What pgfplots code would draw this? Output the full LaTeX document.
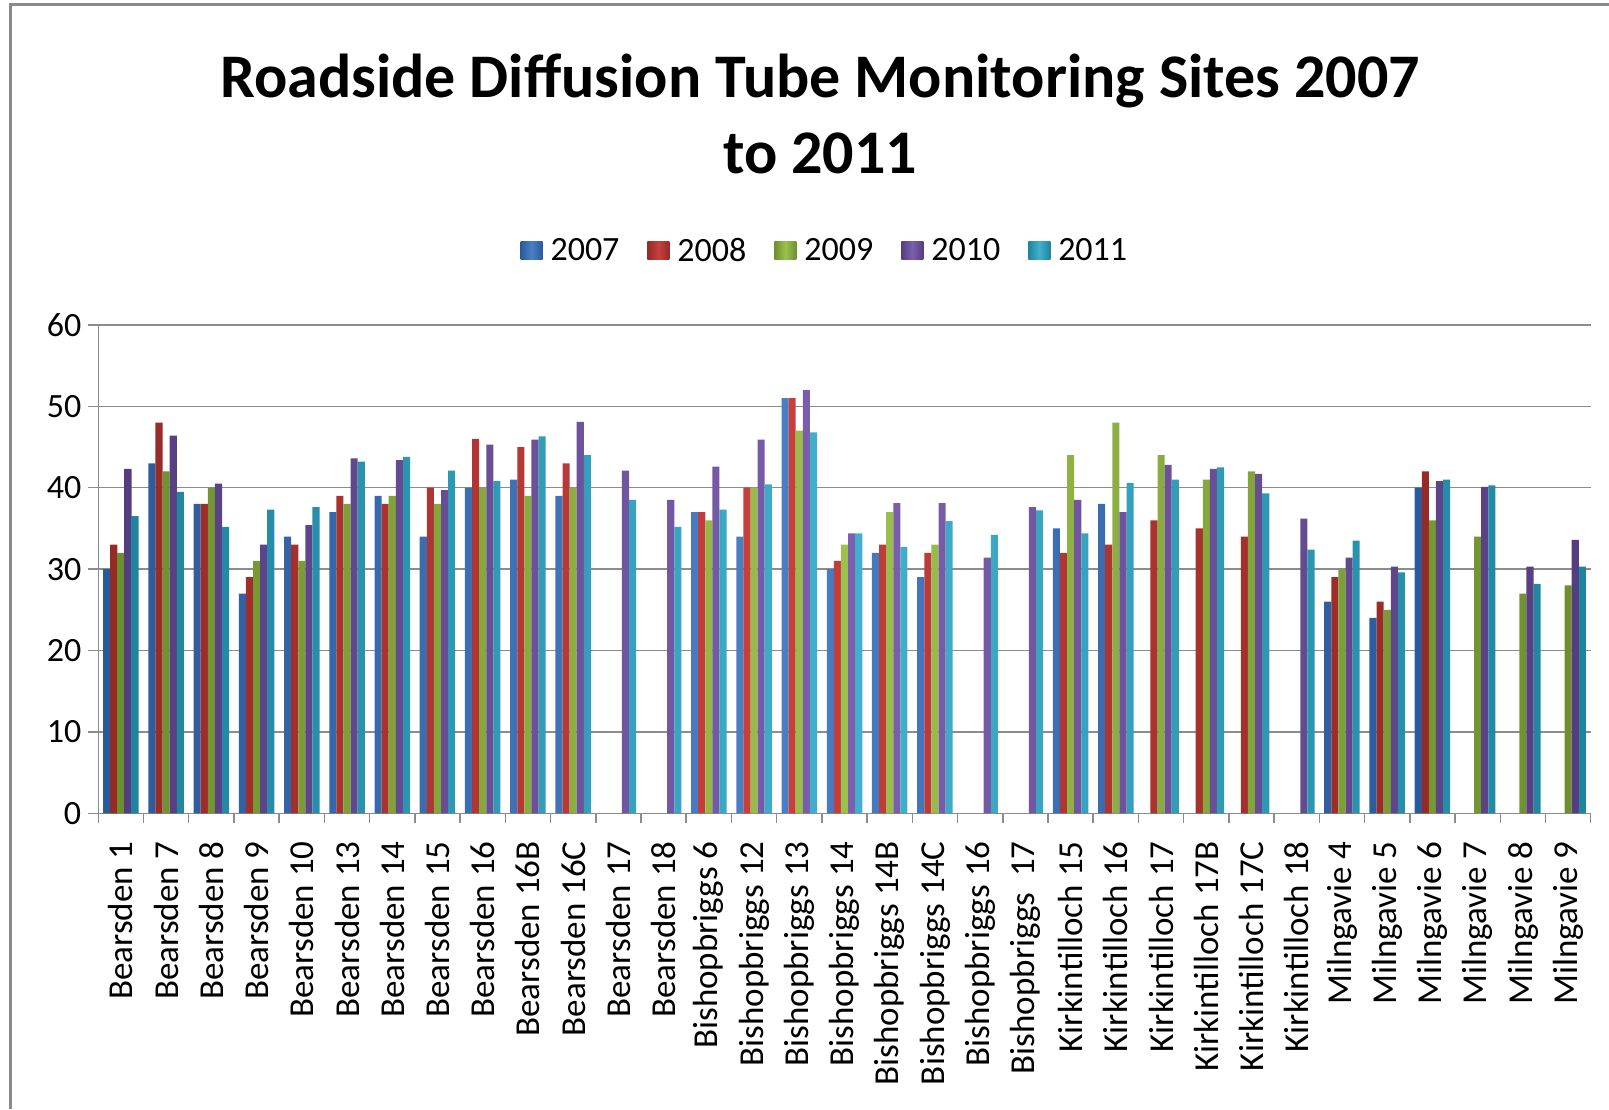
\documentclass[border=0pt]{standalone}
\usepackage{fontspec}
\setmainfont{Carlito}
\usepackage{pgfplots}
\pgfplotsset{compat=1.18}
\usepackage{pgfplotstable}

\definecolor{dA}{HTML}{2B5A9A}\definecolor{lA}{HTML}{4A7FC6}
\definecolor{dB}{HTML}{952A27}\definecolor{lB}{HTML}{C8403C}
\definecolor{dC}{HTML}{6E8F2E}\definecolor{lC}{HTML}{9DC14E}
\definecolor{dD}{HTML}{553E80}\definecolor{lD}{HTML}{7C5FAE}
\definecolor{dE}{HTML}{1F849E}\definecolor{lE}{HTML}{42B0CC}
\definecolor{gridgray}{HTML}{8C8C8C}
\definecolor{framegray}{HTML}{8A8A8A}

\pgfplotstableread{
x  a    b    c    d     e
0  30   33   32   42.3  36.5
1  43   48   42   46.4  39.5
2  38   38   40   40.5  35.2
3  27   29   31   33    37.3
4  34   33   31   35.4  37.6
5  37   39   38   43.6  43.2
6  39   38   39   43.4  43.8
7  34   40   38   39.7  42.1
8  40   46   40   45.3  40.8
9  41   45   39   45.9  46.3
10 39   43   40   48.1  44
11 nan  nan  nan  42.1  38.5
12 nan  nan  nan  38.5  35.2
13 37   37   36   42.6  37.3
14 34   40   40   45.9  40.4
15 51   51   47   52    46.8
16 30   31   33   34.4  34.4
17 32   33   37   38.1  32.7
18 29   32   33   38.1  35.9
19 nan  nan  nan  31.4  34.2
20 nan  nan  nan  37.6  37.2
21 35   32   44   38.5  34.4
22 38   33   48   37    40.6
23 nan  36   44   42.8  41
24 nan  35   41   42.3  42.5
25 nan  34   42   41.7  39.3
26 nan  nan  nan  36.2  32.4
27 26   29   30   31.4  33.5
28 24   26   25   30.3  29.6
29 40   42   36   40.8  41
30 nan  nan  34   40.1  40.3
31 nan  nan  27   30.3  28.2
32 nan  nan  28   33.6  30.3
}\data

\begin{document}
\begin{tikzpicture}
\useasboundingbox (0,0) rectangle (804.5pt,554.5pt);
\draw[line width=1.5pt, color=framegray] (5pt,0) -- (5pt,552pt) -- (804.5pt,552pt);
\node[anchor=base, inner sep=0pt, font=\fontsize{31}{37}\selectfont\bfseries] at (410pt,505.75pt) {Roadside Diffusion Tube Monitoring Sites 2007};
\node[anchor=base, inner sep=0pt, font=\fontsize{31}{37}\selectfont\bfseries] at (410pt,467.5pt) {to 2011};
\begin{axis}[
  at={(49.15pt,147.85pt)}, anchor=south west,
  scale only axis, width=746.2pt, height=244.2pt,
  ybar=0pt, bar width=0.157,
  xmin=-0.5, xmax=32.5, ymin=0, ymax=60,
  ytick={0,10,...,60},
  xtick={0,...,32},
  xticklabels={Bearsden 1,Bearsden 7,Bearsden 8,Bearsden 9,Bearsden 10,Bearsden 13,Bearsden 14,Bearsden 15,Bearsden 16,Bearsden 16B,Bearsden 16C,Bearsden 17,Bearsden 18,Bishopbriggs 6,Bishopbriggs 12,Bishopbriggs 13,Bishopbriggs 14,Bishopbriggs 14B,Bishopbriggs 14C,Bishopbriggs 16,Bishopbriggs~~17,Kirkintilloch 15,Kirkintilloch 16,Kirkintilloch 17,Kirkintilloch 17B,Kirkintilloch 17C,Kirkintilloch 18,Milngavie 4,Milngavie 5,Milngavie 6,Milngavie 7,Milngavie 8,Milngavie 9},
  minor xtick={-0.5,0.5,...,32.5},
  major x tick style={draw=none},
  minor x tick style={gridgray, line width=0.75pt},
  y tick style={gridgray, line width=0.75pt},
  tick align=outside, major tick length=5pt, minor tick length=5pt,
  ymajorgrids, major grid style={gridgray, line width=0.75pt},
  axis x line*=bottom, axis y line*=left,
  axis line style={-, gridgray, line width=0.75pt},
  xticklabel shift=5.5pt,
  xticklabel style={rotate=90, anchor=east, font=\fontsize{17.5}{17.5}\selectfont},
  yticklabel style={font=\fontsize{17}{17}\selectfont},
  /pgf/number format/assume math mode=true,
  legend columns=5,
  legend style={draw=none, at={(0.4875,1.1515)}, anchor=center,
    font=\fontsize{17}{17}\selectfont,
    /tikz/every odd column/.append style={column sep=2pt},
    /tikz/every even column/.append style={column sep=12pt}},
  legend image code/.code={\path[#1] (0pt,-4.5pt) rectangle (11pt,4.5pt);},
]
\addplot[draw=none, left color=dA, right color=dA, middle color=lA] table[x=x,y=a]{\data};
\addplot[draw=none, left color=dB, right color=dB, middle color=lB] table[x=x,y=b]{\data};
\addplot[draw=none, left color=dC, right color=dC, middle color=lC] table[x=x,y=c]{\data};
\addplot[draw=none, left color=dD, right color=dD, middle color=lD] table[x=x,y=d]{\data};
\addplot[draw=none, left color=dE, right color=dE, middle color=lE] table[x=x,y=e]{\data};
\legend{2007,2008,2009,2010,2011}
\end{axis}
\end{tikzpicture}
\end{document}
